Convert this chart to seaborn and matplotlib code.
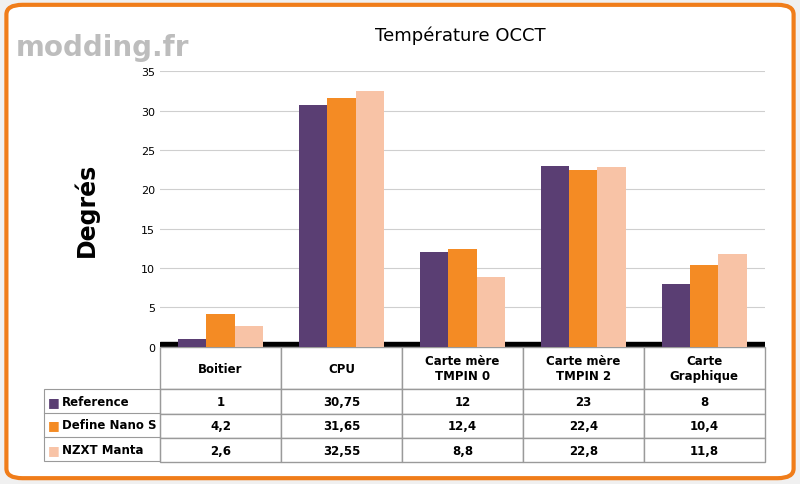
import matplotlib
matplotlib.use("Agg")
import matplotlib.pyplot as plt
import seaborn as sns
import pandas as pd
from matplotlib.patches import FancyBboxPatch

categories = ["Boitier", "CPU", "Carte mère\nTMPIN 0", "Carte mère\nTMPIN 2", "Carte\nGraphique"]
series = ["Reference", "Define Nano S", "NZXT Manta"]
reference = [1, 30.75, 12, 23, 8]
define_nano = [4.2, 31.65, 12.4, 22.4, 10.4]
nzxt_manta = [2.6, 32.55, 8.8, 22.8, 11.8]
labels_ref = ["1", "30,75", "12", "23", "8"]
labels_def = ["4,2", "31,65", "12,4", "22,4", "10,4"]
labels_nzxt = ["2,6", "32,55", "8,8", "22,8", "11,8"]
colors = ["#5a3e73", "#f48b24", "#f8c3a6"]

rows = []
for name, vals in zip(series, [reference, define_nano, nzxt_manta]):
    for c, v in zip(categories, vals):
        rows.append({"cat": c, "serie": name, "val": v})
df = pd.DataFrame(rows)

fig = plt.figure(figsize=(8, 4.85), dpi=100)
fig.patch.set_facecolor("#f0f0f0")
frame = FancyBboxPatch((0.008, 0.012), 0.984, 0.976, boxstyle="round,pad=0,rounding_size=0.02",
                       transform=fig.transFigure, facecolor="white", edgecolor="#f07d1a",
                       linewidth=3, zorder=-10)
fig.patches.append(frame)

ax = fig.add_axes([0.2, 0.283, 0.756, 0.568])
ax.patch.set_alpha(0)
sns.barplot(data=df, x="cat", y="val", hue="serie", palette=colors, ax=ax,
            width=0.7, edgecolor="none", legend=False, saturation=1)
ax.set_ylim(0, 35)
ax.set_yticks(range(0, 36, 5))
ax.grid(axis="y", color="#cfcfcf", linewidth=0.8)
ax.set_axisbelow(True)
ax.set_xticks([])
ax.set_xlabel("")
ax.set_ylabel("Degrés", fontsize=17, fontweight="bold", labelpad=30)
ax.tick_params(axis="y", labelsize=8, length=0)
for s in ax.spines.values():
    s.set_visible(False)
ax.axhspan(0, 0.6, color="black", zorder=0)
fig.text(0.575, 0.915, "Température OCCT", ha="center", fontsize=13)

cell_text = [labels_ref, labels_def, labels_nzxt]
tab = ax.table(cellText=cell_text, colLabels=categories, cellLoc="center",
               bbox=[0, -0.42, 1, 0.42])
tab.auto_set_font_size(False)
tab.set_fontsize(8.5)
for (r, c), cell in tab.get_celld().items():
    cell.set_edgecolor("#9a9a9a")
    cell.get_text().set_fontweight("bold")
    cell.set_height(1.75 if r == 0 else 1.0)

# row labels
ytops = [0.171, 0.122, 0.072]
for name, col, y in zip(series, colors, ytops):
    fig.text(0.06, y, "■", color=col, fontsize=9, va="center")
    fig.text(0.077, y, name, fontsize=8.5, fontweight="bold", va="center")
fig.add_artist(plt.Rectangle((0.055, 0.047), 0.145, 0.149, transform=fig.transFigure,
                             fill=False, edgecolor="#9a9a9a", linewidth=0.8))
for y in [0.146, 0.097]:
    fig.add_artist(plt.Line2D([0.055, 0.2], [y, y], transform=fig.transFigure,
                              color="#9a9a9a", linewidth=0.8))

fig.text(0.02, 0.93, "modding.fr", fontsize=20, fontweight="bold", color="#bdbdbd", va="top")
fig.savefig("out.png", dpi=100, facecolor=fig.get_facecolor())
